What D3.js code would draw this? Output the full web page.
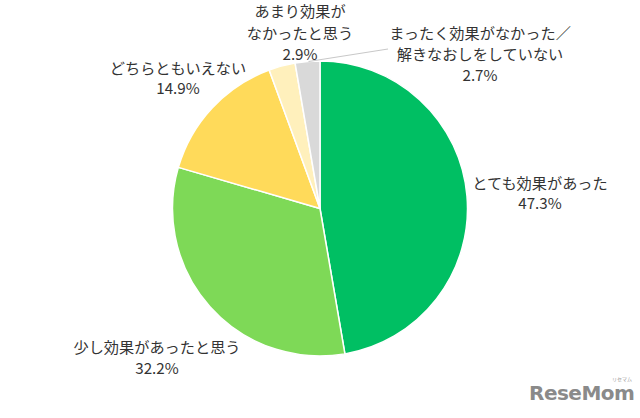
<!DOCTYPE html>
<html><head><meta charset="utf-8">
<script src="https://cdn.jsdelivr.net/npm/d3@7"></script>
<style>body{margin:0;background:#fff}svg{display:block}</style>
</head><body>
<script>
const categories = ["とても効果があった","少し効果があったと思う","どちらともいえない","あまり効果がなかったと思う","まったく効果がなかった／解きなおしをしていない"];
const values = [47.3, 32.2, 14.9, 2.9, 2.7];
const labelLines = [["とても効果があった"],["少し効果があったと思う"],["どちらともいえない"],["あまり効果が","なかったと思う"],["まったく効果がなかった／","解きなおしをしていない"]];
const colors = ["#00BF63","#7ED957","#FFDA5A","#FFF0BC","#D9D9D9"];

const W=640,H=418, cx=320, cy=208.5, R=147.5;
// label anchor (center x, first line y) per slice
const labelLayout = [
  {x:540, y:182, dy:20},
  {x:157, y:346, dy:21},
  {x:178, y:67, dy:20},
  {x:300, y:10, dy:21.5},
  {x:480, y:32, dy:21}
];

const svg = d3.select("body").append("svg").attr("width",W).attr("height",H);
const pie = d3.pie().sort(null).value(d=>d)(values);
const arc = d3.arc().innerRadius(0).outerRadius(R);
const g = svg.append("g").attr("transform",`translate(${cx},${cy})`);
g.selectAll("path").data(pie).join("path")
  .attr("d",arc).attr("fill",(d,i)=>colors[i])
  .attr("stroke","#fff").attr("stroke-width",1.5);

// leader line for the last slice
const last = pie[4];
const a = (last.startAngle+last.endAngle)/2;
const lx = cx + Math.sin(a)*R, ly = cy - Math.cos(a)*R;
svg.append("line").attr("x1",lx+1).attr("y1",ly).attr("x2",388).attr("y2",49)
  .attr("stroke","#c8c8c8").attr("stroke-width",1);

const font = "'Noto Sans CJK JP','Noto Sans',sans-serif";
labelLines.forEach((lines,i)=>{
  const L = labelLayout[i];
  const t = svg.append("text").attr("text-anchor","middle").attr("font-family",font)
    .attr("font-size",15.2).attr("fill","#333");
  const all = lines.concat([values[i].toFixed(1)+"%"]);
  all.forEach((s,k)=>{
    t.append("tspan").attr("x",L.x).attr("y",L.y+k*L.dy).attr("dominant-baseline","central").text(s);
  });
});

// logo
svg.append("text").attr("x",529).attr("y",400).attr("font-family","'DejaVu Sans',sans-serif")
  .attr("font-weight","bold").attr("font-size",20).attr("fill","#8a8a8a").attr("letter-spacing",-0.5).text("ReseMom");
svg.append("text").attr("x",612).attr("y",381).attr("font-family",font)
  .attr("font-size",5).attr("fill","#999").text("リセマム");
</script>
</body></html>
